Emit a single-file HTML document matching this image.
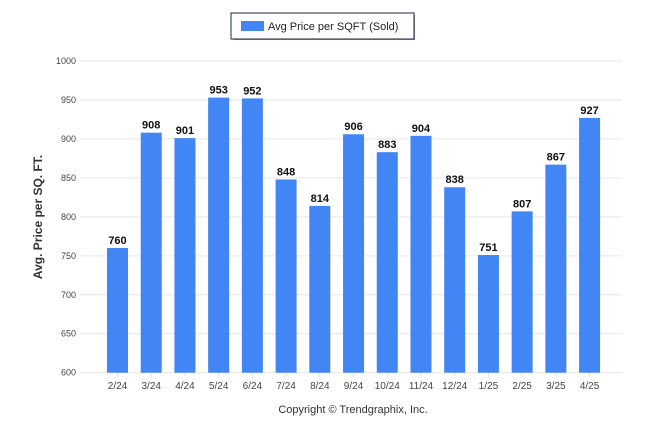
<!DOCTYPE html>
<html><head><meta charset="utf-8"><style>
body{margin:0;background:#fff;}
svg{display:block;font-family:"Liberation Sans",sans-serif;}
</style></head><body>
<svg id="chart" width="646" height="434">
<g>
<rect x="233" y="15" width="182" height="25" fill="#333" opacity="0.5"/>
<rect x="231" y="13" width="183" height="26" fill="#fff" stroke="#1a2a4a" stroke-width="1"/>
<rect x="241" y="21" width="23" height="10" fill="#4285f4"/>
<text x="268" y="30" font-size="11" fill="#222">Avg Price per SQFT (Sold)</text>
</g>
<text transform="translate(42,217) rotate(-90)" text-anchor="middle" font-size="12" font-weight="bold" fill="#333">Avg. Price per SQ. FT.</text>
<text x="353" y="413" text-anchor="middle" font-size="11" fill="#333">Copyright © Trendgraphix, Inc.</text>
<g id="grid"></g><g id="bars"></g><g id="labels"></g>
</svg>
<script>
const categories=["2/24","3/24","4/24","5/24","6/24","7/24","8/24","9/24","10/24","11/24","12/24","1/25","2/25","3/25","4/25"];
const values=[760,908,901,953,952,848,814,906,883,904,838,751,807,867,927];
const yTicks=[600,650,700,750,800,850,900,950,1000];
const NS="http://www.w3.org/2000/svg";
const y0=372.7,y1=61,vMin=600,vMax=1000;
const y=v=>y0-(v-vMin)/(vMax-vMin)*(y0-y1);
const x=i=>117.5+i*33.72;
function mk(t,a,p){const e=document.createElementNS(NS,t);for(const k in a)e.setAttribute(k,a[k]);p.appendChild(e);return e;}
const grid=document.getElementById('grid'),bars=document.getElementById('bars'),labels=document.getElementById('labels');
yTicks.forEach(v=>{
 const l=mk('line',{x1:80,x2:622,y1:y(v),y2:y(v),stroke:'#e6e6e6','stroke-width':1},grid);
 
 
 const t=mk('text',{x:76,y:y(v)+3,'text-anchor':'end','font-size':9,fill:'#444'},grid);
 t.textContent=v;
 
 
});
categories.forEach((c,i)=>{
 const v=values[i];
 const r=mk('rect',{x:x(i)-10.5,y:y(v),width:21,height:y0-y(v),fill:'#4285f4'},bars);
 
 
 const t=mk('text',{x:x(i),y:y(v)-4,'text-anchor':'middle','font-size':11,'font-weight':'bold',fill:'#111'},labels);
 t.textContent=v;
 
 
 const tk=mk('line',{x1:x(i),x2:x(i),y1:y0,y2:y0+4,stroke:'#ddd'},grid);
 
 
 const xl=mk('text',{x:x(i),y:389,'text-anchor':'middle','font-size':10,fill:'#444'},labels);
 xl.textContent=c;
 
 
});
</script>
</body></html>
